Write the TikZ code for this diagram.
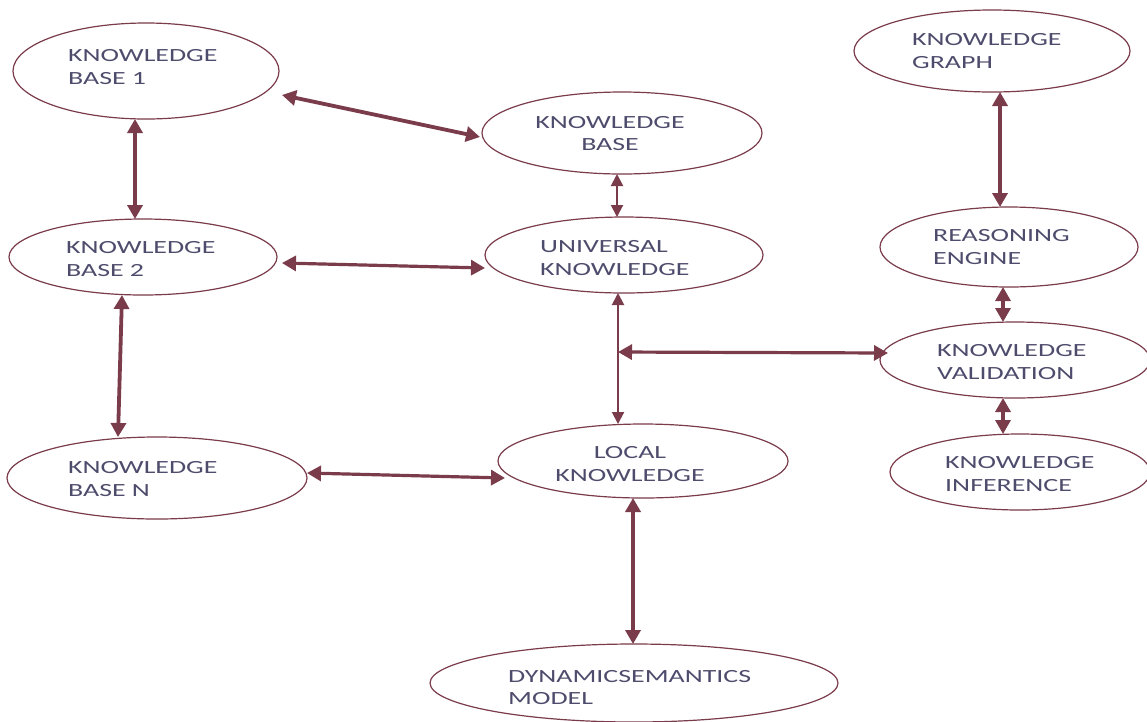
\documentclass[tikz,border=0pt]{standalone}
\usepackage{fontspec}
\setmainfont[FakeStretch=1.5]{Carlito}
\usetikzlibrary{shapes.geometric,arrows.meta}
\definecolor{edgecol}{HTML}{7A3B4A}
\definecolor{txtcol}{HTML}{4E4C6C}
\tikzset{
  ell/.style={ellipse, draw=edgecol, line width=1.2pt, inner sep=0pt, outer sep=0pt},
  lbl/.style={text=txtcol, inner sep=0pt, font=\fontsize{18.6}{22.5}\selectfont},
  lblL/.style={lbl, anchor=west, align=left},
  lblC/.style={lbl, anchor=center, align=center},
  conn/.style={draw=edgecol, line width=3.8pt, {Triangle[length=14pt,width=15pt]}-{Triangle[length=14pt,width=15pt]}},
  connmid/.style={conn, line width=3.2pt},
  connthin/.style={conn, line width=2pt, {Triangle[length=12pt,width=12pt]}-{Triangle[length=12pt,width=12pt]}}
}
\begin{document}
\begin{tikzpicture}[x=1pt,y=-1pt]
\useasboundingbox[fill=white] (0,0) rectangle (1147,721);
% ellipses
\node[ell, minimum width=266pt, minimum height=96pt] (kb1) at (146,71) {};
\node[ell, minimum width=268pt, minimum height=76pt] (kb2) at (143,257) {};
\node[ell, minimum width=300pt, minimum height=82pt] (kbn) at (157,478) {};
\node[ell, minimum width=280pt, minimum height=82pt] (kb) at (622,133) {};
\node[ell, minimum width=278pt, minimum height=76pt] (uk) at (624,255) {};
\node[ell, minimum width=290pt, minimum height=74pt] (lk) at (643,461) {};
\node[ell, minimum width=408pt, minimum height=78pt] (dsm) at (634,683) {};
\node[ell, minimum width=276pt, minimum height=82pt] (kg) at (992,51) {};
\node[ell, minimum width=258pt, minimum height=80pt] (re) at (1009,247) {};
\node[ell, minimum width=270pt, minimum height=76pt] (kv) at (1015,360) {};
\node[ell, minimum width=260pt, minimum height=76pt] (ki) at (1020,472) {};
% labels
\node[lblL] (t1) at (68,67) {KNOWLEDGE\\BASE 1};
\node[lblL] (t2) at (66,259) {KNOWLEDGE\\BASE 2};
\node[lblL] (t3) at (68,479) {KNOWLEDGE\\BASE N};
\node[lblC] (t4) at (610,133.5) {KNOWLEDGE\\BASE};
\node[lblL] (t5) at (540,258) {UNIVERSAL\\KNOWLEDGE};
\node[lblC] (t6) at (630,464) {LOCAL\\KNOWLEDGE};
\node[lblL] (t7) at (508,687.5) {DYNAMICSEMANTICS\\MODEL};
\node[lblL] (t8) at (912,51) {KNOWLEDGE\\GRAPH};
\node[lblL] (t9) at (933,247) {REASONING\\ENGINE};
\node[lblL] (t10) at (937,362) {KNOWLEDGE\\VALIDATION};
\node[lblL] (t11) at (945,474) {KNOWLEDGE\\INFERENCE};
% connectors
\coordinate (j) at (618,352);
\draw[conn] ([xshift=-11pt]kb1.south) -- ([xshift=-8pt]kb2.north);
\draw[conn] ([shift={(3,24)}]kb1.east) -- ([shift={(-2,4)}]kb.west);
\draw[connmid] ([shift={(5,6)}]kb2.east) -- ([shift={(0,13)}]uk.west);
\draw[connthin] ([xshift=-5pt]kb.south) -- ([xshift=-7pt]uk.north);
\draw[conn] ([xshift=-21pt]kb2.south) -- ([xshift=-39pt]kbn.north);
\draw[connthin] ([xshift=-6pt]uk.south) -- ([xshift=-25pt]lk.north);
\draw[connmid] (j) -- ([shift={(8,-7)}]kv.west);
\draw[connmid] ([shift={(0,-5)}]kbn.east) -- ([shift={(7,17)}]lk.west);
\draw[conn] ([xshift=-10pt]lk.south) -- ([xshift=-1pt]dsm.north);
\draw[conn] ([xshift=8pt]kg.south) -- ([xshift=-9pt]re.north);
\draw[connmid] ([xshift=-6pt]re.south) -- ([xshift=-12pt]kv.north);
\draw[connmid] ([xshift=-12pt]kv.south) -- ([xshift=-17pt]ki.north);
\end{tikzpicture}
\end{document}
